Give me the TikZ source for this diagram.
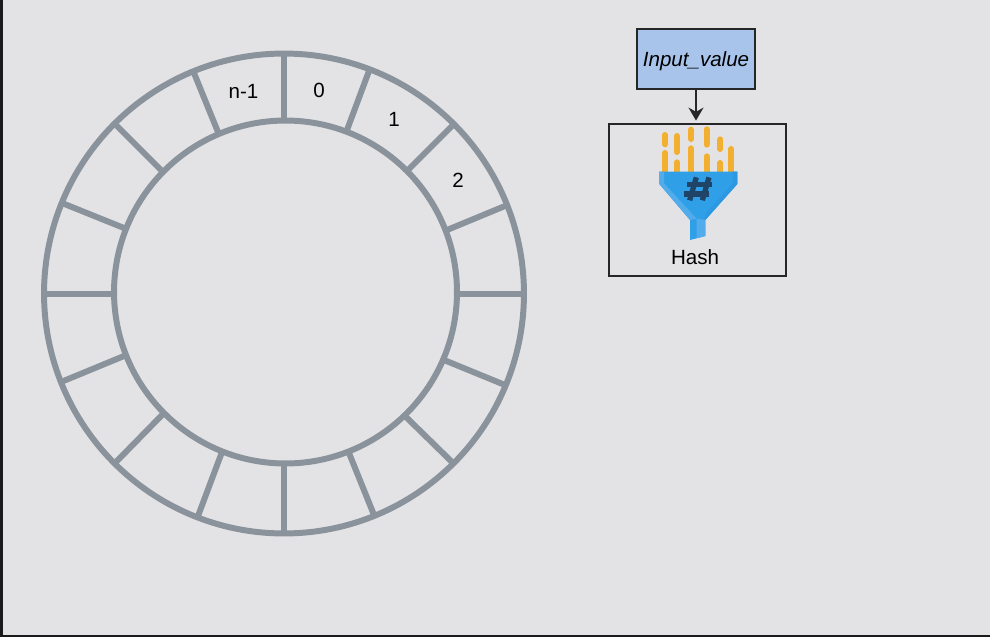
\documentclass[tikz,border=0pt]{standalone}
\usepackage{fontspec}
\setmainfont{Liberation Sans}
\usetikzlibrary{arrows.meta,positioning,calc}
\definecolor{pagebg}{HTML}{E3E3E5}
\definecolor{pageedge}{HTML}{1A1A1A}
\definecolor{ringgray}{HTML}{8A939C}
\definecolor{inputblue}{HTML}{A9C4EB}
\definecolor{barorange}{HTML}{F3AF2F}
\definecolor{funnelmain}{HTML}{2FA0E8}
\definecolor{funnellight}{HTML}{52ABEA}
\definecolor{funneldark}{HTML}{2D98E2}
\definecolor{hashnavy}{HTML}{1F4468}

\begin{document}
\begin{tikzpicture}[
  x=0.02cm, y=-0.02cm,
  ring/.style={draw=ringgray, line width=3.4pt},
  lbl/.style={font=\fontsize{11.7}{14}\selectfont, inner sep=0pt},
  box/.style={rectangle, draw=black!85, line width=0.9pt, inner sep=0pt},
  arr/.style={-{Stealth[length=2.6mm,width=3mm]}, line width=1pt, black!85},
  bar/.style={line width=3.4pt, line cap=round, barorange}
]
  \useasboundingbox (0,0) rectangle (990,637);
  \fill[pagebg] (0,0) rectangle (990,637);
  \fill[pageedge] (0,0) rectangle (3,637);
  \fill[pageedge] (0,635) rectangle (990,637);

  % ring
  \coordinate (outer) at (284,293.5);
  \coordinate (inner) at (285.5,292);
  \draw[ring] (outer) circle[radius=4.8cm];
  \draw[ring] (inner) circle[radius=3.43cm];
  \foreach \xa/\ya/\xb/\yb in {284/120/284/55, 347/130/369/71, 408/170/452/126, 447/230/505/206,
      457/294/524/294, 444/360/505/385, 405/416/452/462, 349/453/374/515,
      284/464/284/533, 222/452/198/516, 163/414/115/463, 124/356/61/382,
      114/294/44/294, 124/228/62/203, 161/170/115/124, 218/132/194/73}
    \draw[ring] (\xa,\ya) -- (\xb,\yb);

  \node[lbl] (slotlast) at (243.5,91) {n-1};
  \node[lbl] (slot0) at (319,90) {0};
  \node[lbl] (slot1) at (394,119) {1};
  \node[lbl] (slot2) at (458,180) {2};

  % input and hash
  \node[box, fill=inputblue, minimum width=2.36cm, minimum height=1.2cm, text height=10pt, text depth=1.4pt, font=\fontsize{11.7}{14}\selectfont\itshape] (input) at (696,59) {Input\_value};
  \node[box, minimum width=3.54cm, minimum height=3.04cm] (hash) at (697.5,200) {};
  \node[lbl] (hashlabel) at (695,257) {Hash};
  \draw[arr, shorten >=1.5pt] (input.south) -- (input.south |- hash.north);

  % funnel icon
  \begin{scope}[shift={(600,20)}, x=0.00667cm, y=-0.00667cm]
    \foreach \x/\t/\b in {195/345/373, 195/399/460, 231/348/396, 231/427/460, 273/329/357, 273/385/460, 320/328/374, 320/409/460, 361/358/387, 361/429/460, 394/387/460}
      \draw[bar] (\x,\t) -- (\x,\b);
    \fill[funnelmain] (178,455) -- (412,455) -- (412,492) -- (316,600) -- (316,648) -- (270,660) -- (270,600) -- (178,492) -- cycle;
    \fill[funnellight] (178,455) -- (192,455) -- (192,490) -- (290,596) -- (270,600) -- (178,492) -- cycle;
    \fill[funnellight] (290,596) -- (316,600) -- (316,648) -- (290,655) -- cycle;
    \fill[funneldark] (412,455) -- (398,455) -- (398,490) -- (316,582) -- (316,600) -- (412,492) -- cycle;
    \draw[hashnavy, line width=3pt] (289,472) -- (269,541) (327,472) -- (307,541);
    \draw[hashnavy, line width=3pt] (262,493) -- (337,493) (253,522) -- (328,522);
  \end{scope}
\end{tikzpicture}
\end{document}
